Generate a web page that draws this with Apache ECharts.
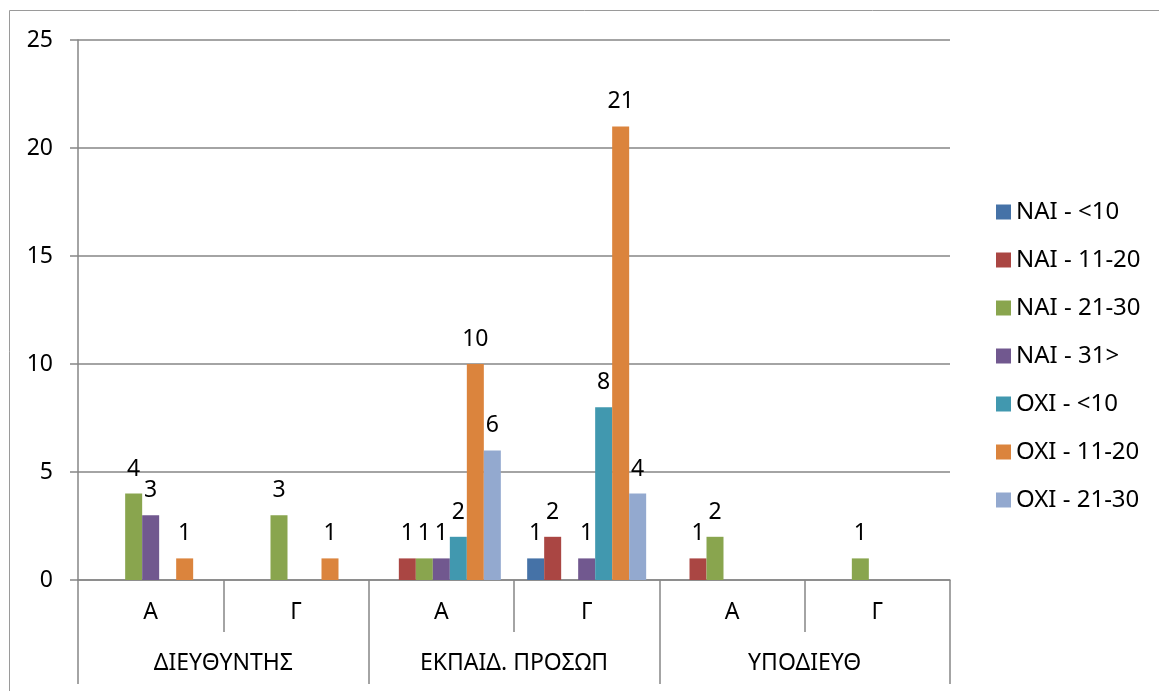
<!DOCTYPE html>
<html>
<head>
<meta charset="utf-8">
<script src="https://cdn.jsdelivr.net/npm/echarts@6/dist/echarts.min.js"></script>
<style>
  html, body { margin: 0; padding: 0; background: #fff; }
  #chart { width: 1159px; height: 691px; }
</style>
</head>
<body>
<div id="chart"></div>
<script>
// categories: inner level (A / Γ) and outer level (groups)
const subCategories = ['Α', 'Γ', 'Α', 'Γ', 'Α', 'Γ'];
const groups = ['ΔΙΕΥΘΥΝΤΗΣ', 'ΕΚΠΑΙΔ. ΠΡΟΣΩΠ', 'ΥΠΟΔΙΕΥΘ'];
const seriesNames = ['NAI - <10', 'NAI - 11-20', 'NAI - 21-30', 'NAI - 31>', 'OXI - <10', 'OXI - 11-20', 'OXI - 21-30'];

// values per series, one per sub category (null = no bar)
const naiUnder10 = [null, null, null, 1, null, null];
const nai11to20 = [null, null, 1, 2, 1, null];
const nai21to30 = [4, 3, 1, null, 2, 1];
const nai31plus = [3, null, 1, 1, null, null];
const oxiUnder10 = [null, null, 2, 8, null, null];
const oxi11to20 = [1, 1, 10, 21, null, null];
const oxi21to30 = [null, null, 6, 4, null, null];

const yTicks = [0, 5, 10, 15, 20, 25];

const colors = ['#4572A7', '#AA4643', '#89A54E', '#71588F', '#4198AF', '#DB843D', '#93A9CF'];
const allData = [naiUnder10, nai11to20, nai21to30, nai31plus, oxiUnder10, oxi11to20, oxi21to30];

const font = '"Noto Sans", "DejaVu Sans", sans-serif';
const fs = 23;
const lineColor = '#868686';

const chart = echarts.init(document.getElementById('chart'));

const option = {
  animation: false,
  color: colors,
  textStyle: { fontFamily: font },
  graphic: [{
    type: 'rect',
    shape: { x: 9.5, y: 10.5, width: 1170, height: 700 },
    style: { fill: null, stroke: '#9a9a9a', lineWidth: 1 },
    silent: true
  }],
  grid: {
    left: 78,
    right: 209,
    top: 40,
    bottom: 111,
    containLabel: false
  },
  legend: {
    orient: 'vertical',
    left: 991,
    top: 195,
    itemWidth: 15,
    itemHeight: 15,
    itemGap: 24,
    icon: 'rect',
    data: seriesNames,
    textStyle: { fontFamily: font, fontSize: 24, color: '#000' }
  },
  xAxis: [{
    type: 'category',
    data: subCategories,
    position: 'bottom',
    axisLine: { show: true, lineStyle: { color: lineColor, width: 1.5 } },
    axisTick: { show: true, interval: 0, length: 52, lineStyle: { color: lineColor, width: 1.5 } },
    axisLabel: { interval: 0, margin: 21, fontSize: fs, color: '#000', fontFamily: font },
    splitLine: { show: false }
  }, {
    type: 'category',
    data: groups,
    position: 'bottom',
    axisLine: { show: false },
    axisTick: { show: true, interval: 0, length: 104, lineStyle: { color: lineColor, width: 1.5 } },
    axisLabel: { interval: 0, margin: 72, fontSize: fs, color: '#000', fontFamily: font },
    splitLine: { show: false }
  }],
  yAxis: {
    type: 'value',
    min: yTicks[0],
    max: yTicks[yTicks.length - 1],
    interval: yTicks[1] - yTicks[0],
    axisLine: { show: true, lineStyle: { color: lineColor, width: 1.5 } },
    axisTick: { show: true, length: 8, lineStyle: { color: lineColor, width: 1.5 } },
    axisLabel: { margin: 25, fontSize: fs, color: '#000', fontFamily: font },
    splitLine: { show: true, lineStyle: { color: lineColor, width: 1.5 } }
  },
  series: seriesNames.map(function (name, i) {
    return {
      name: name,
      type: 'bar',
      xAxisIndex: 0,
      barWidth: 17,
      barGap: '0%',
      data: allData[i],
      itemStyle: { color: colors[i] },
      label: {
        show: true,
        position: 'top',
        distance: 13,
        fontSize: fs,
        color: '#000',
        fontFamily: font
      }
    };
  })
};

chart.setOption(option);
</script>
</body>
</html>
